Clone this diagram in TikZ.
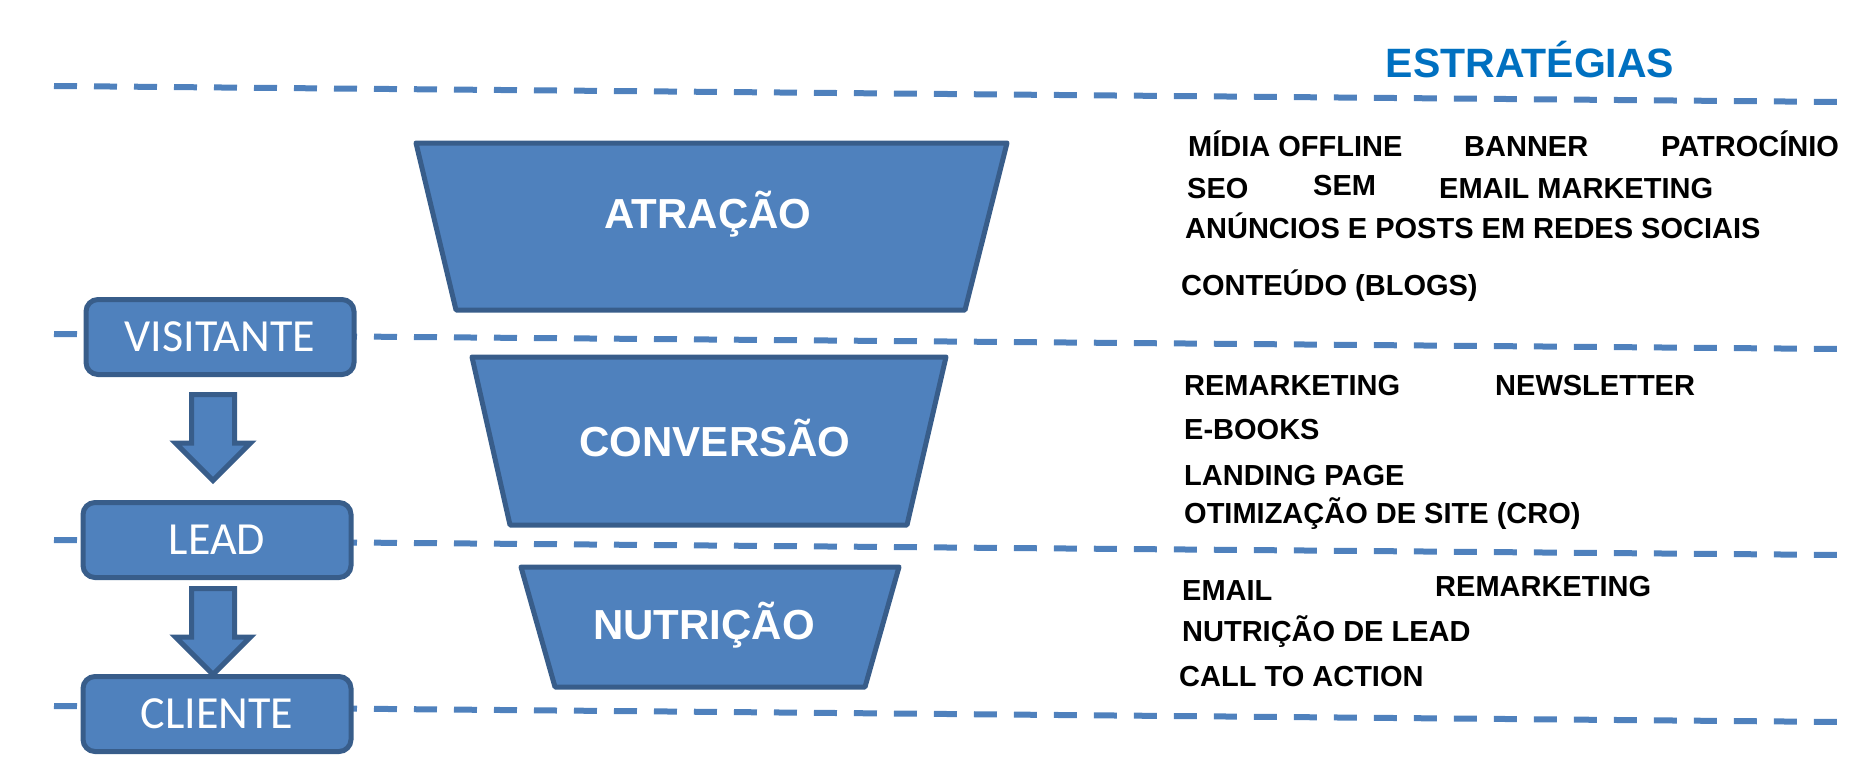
\documentclass[tikz,border=0pt]{standalone}
\usepackage{fontspec}
\setmainfont{Liberation Sans}
\newfontfamily\boxfont{Carlito}
\usepackage{xcolor}
\usetikzlibrary{shapes.geometric,shapes.arrows,positioning}
\definecolor{funfill}{HTML}{4F81BD}
\definecolor{funline}{HTML}{385D8A}
\definecolor{titleblue}{HTML}{0070C0}

\begin{document}
\begin{tikzpicture}[x=1pt,y=-1pt,
  sep/.style={funfill,line width=6pt,dash pattern=on 23pt off 17pt},
  funnel/.style={draw=funline,fill=funfill,line width=5pt,line join=round},
  ftext/.style={text=white,inner sep=0pt,font=\fontsize{42}{50}\selectfont\bfseries},
  stage/.style={rectangle,rounded corners=12pt,draw=funline,fill=funfill,line width=5pt,
                minimum width=268pt,minimum height=75pt,
                text=white,font=\boxfont\fontsize{46}{54}\selectfont},
  blockarr/.style={single arrow,shape border rotate=270,draw=funline,fill=funfill,
                   line width=5pt,inner sep=19pt,minimum height=86pt,
                   single arrow head extend=16pt,anchor=tail},
  strat/.style={anchor=base west,inner sep=0pt,font=\fontsize{29}{34}\selectfont\bfseries}
]
\useasboundingbox (0,0) rectangle (1868,768);

% separators
\foreach \ya/\yb in {86/102,334/349,540/555,706/722}
  \draw[sep] (54,\ya) -- (1841,\yb);

\node[text=titleblue,font=\fontsize{41}{48}\selectfont\bfseries] (titl) at (1530,60) {ESTRATÉGIAS};

% funnel
\draw[funnel] (416,143) -- (1007,143) -- (965,310) -- (456,310) -- cycle;
\node[ftext] (atr) at (708,214) {ATRAÇÃO};
\draw[funnel] (472,357) -- (946,357) -- (907,525) -- (510,525) -- cycle;
\node[ftext] (conv) at (715,438) {CONVERSÃO};
\draw[funnel] (521,567) -- (899,567) -- (865,687) -- (555,687) -- cycle;
\node[ftext] (nutr) at (704,625) {NUTRIÇÃO};

% stages
\node[stage] (vis)  at (220,337) {VISITANTE};
\node[stage] (lead) at (217,540) {LEAD};
\node[stage] (cli)  at (217,714) {CLIENTE};
\node[blockarr] (a1) at (213,392) {};
\node[blockarr] (a2) at (213,586) {};

% strategies
\node[strat] (s1)  at (1188,156) {MÍDIA OFFLINE};
\node[strat] (s2)  at (1464,156) {BANNER};
\node[strat] (s3)  at (1661,156) {PATROCÍNIO};
\node[strat] (s4)  at (1187,198) {SEO};
\node[strat] (s5)  at (1313,195) {SEM};
\node[strat] (s6)  at (1439,198) {EMAIL MARKETING};
\node[strat] (s7)  at (1185,238) {ANÚNCIOS E POSTS EM REDES SOCIAIS};
\node[strat] (s8)  at (1181,295) {CONTEÚDO (BLOGS)};
\node[strat] (s9)  at (1184,395) {REMARKETING};
\node[strat] (s10) at (1495,395) {NEWSLETTER};
\node[strat] (s11) at (1184,439) {E-BOOKS};
\node[strat] (s12) at (1184,485) {LANDING PAGE};
\node[strat] (s13) at (1184,523) {OTIMIZAÇÃO DE SITE (CRO)};
\node[strat] (s14) at (1182,600) {EMAIL};
\node[strat] (s15) at (1435,596) {REMARKETING};
\node[strat] (s16) at (1182,641) {NUTRIÇÃO DE LEAD};
\node[strat] (s17) at (1179,686) {CALL TO ACTION};
\end{tikzpicture}
\end{document}
